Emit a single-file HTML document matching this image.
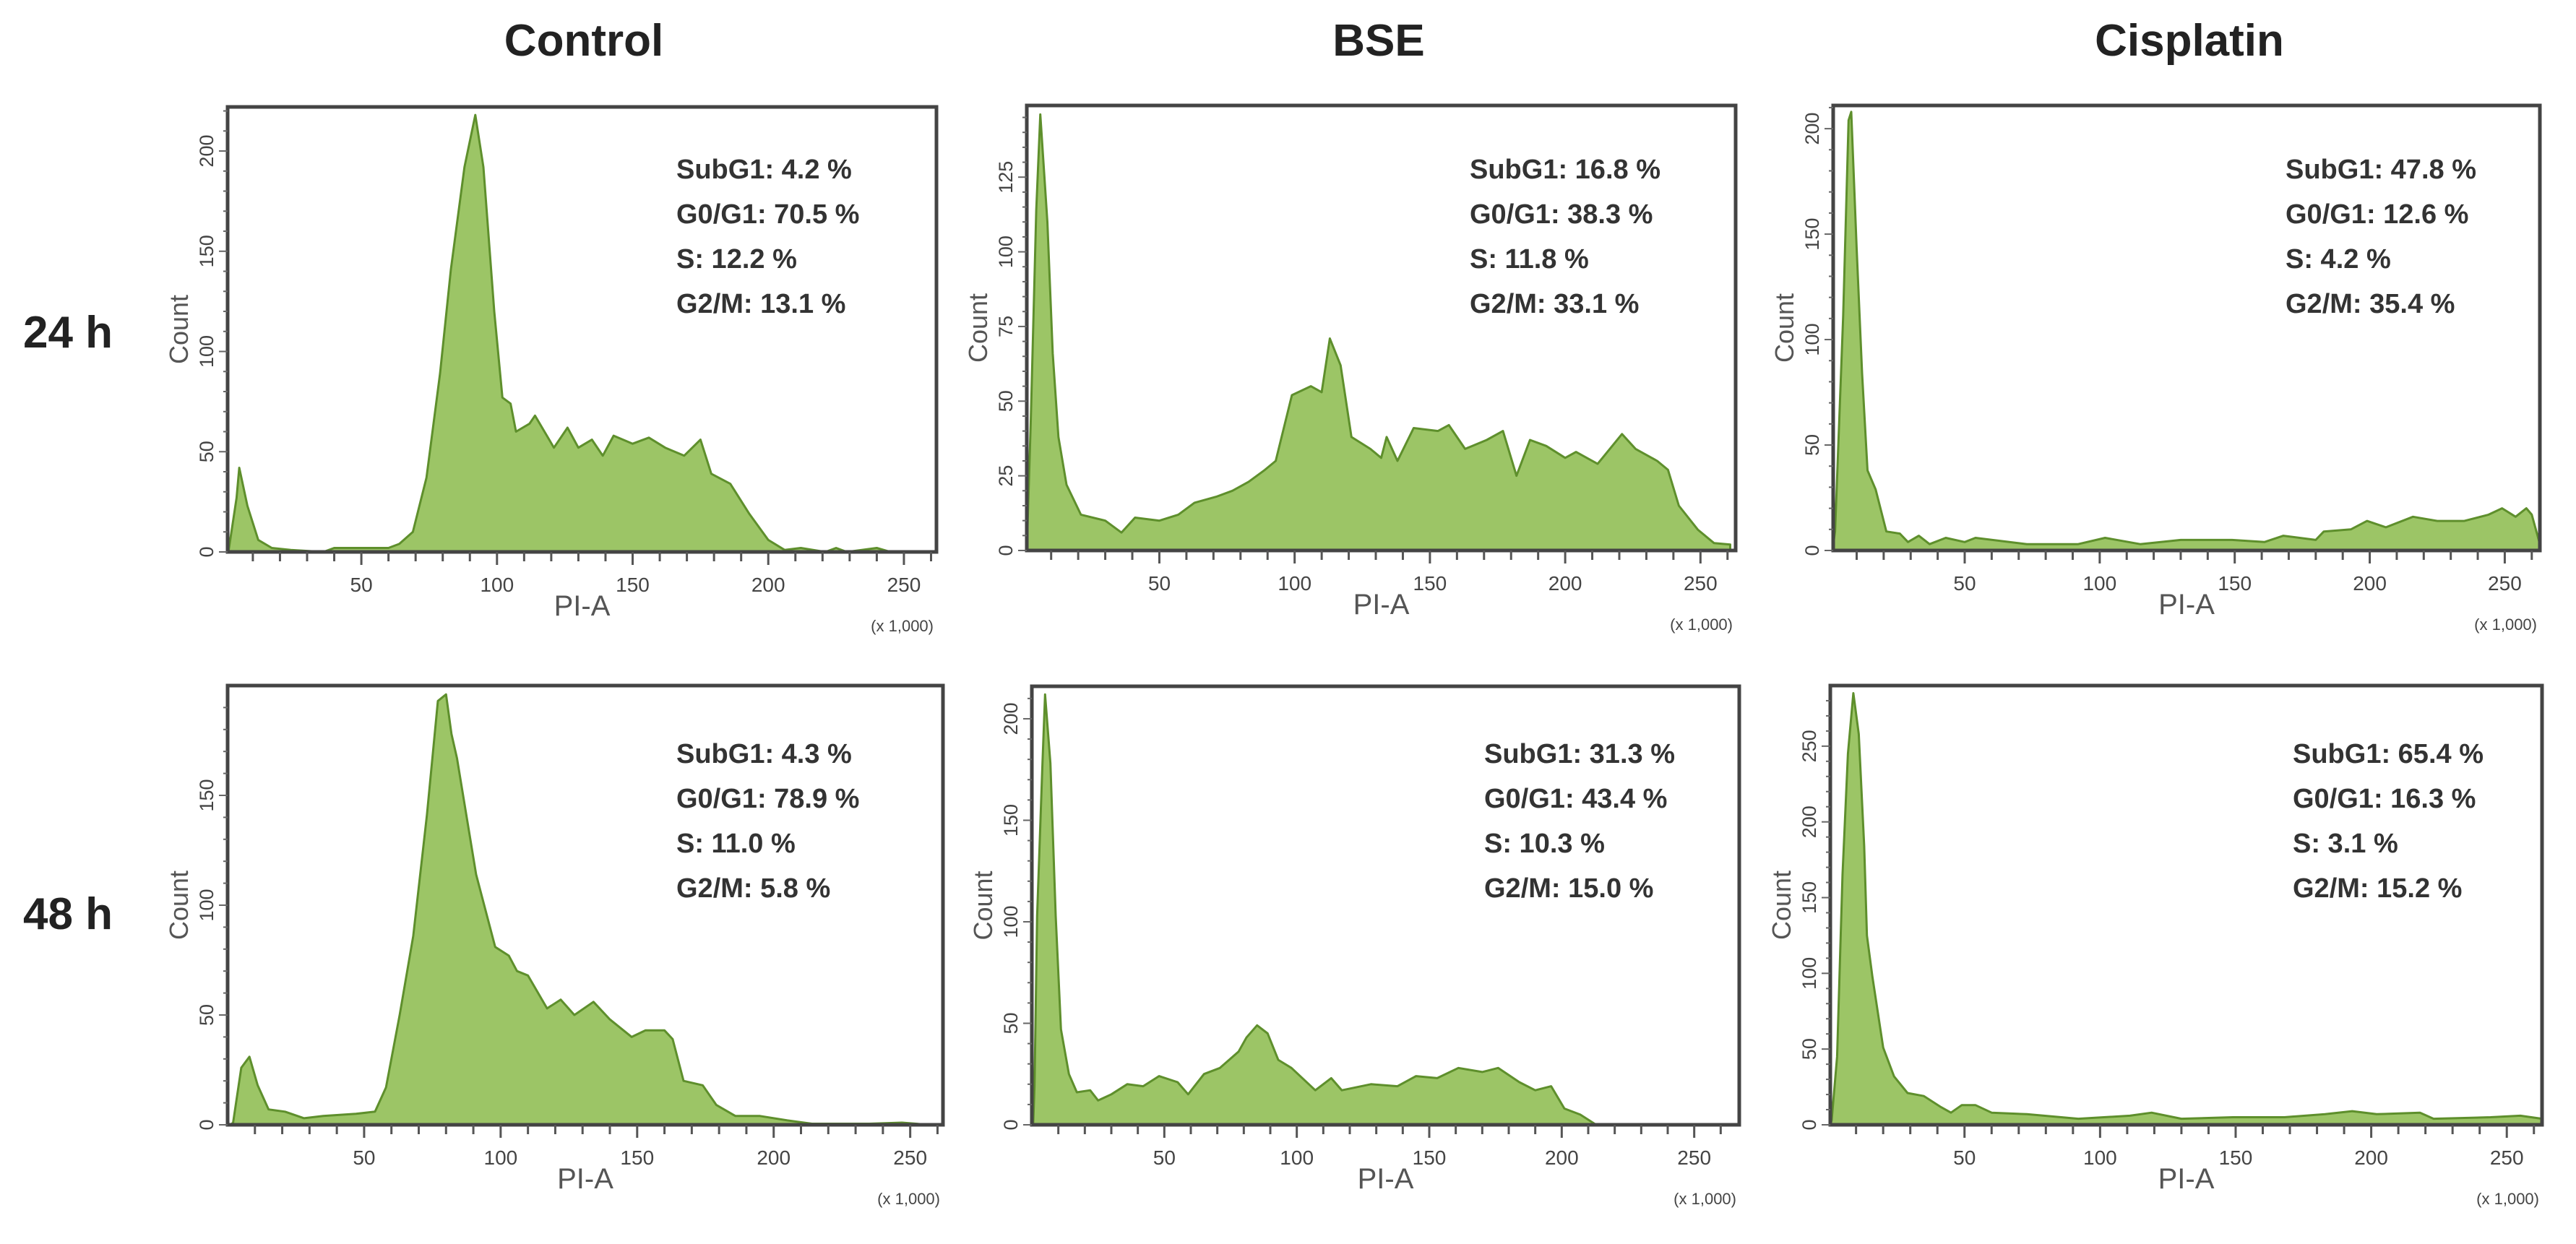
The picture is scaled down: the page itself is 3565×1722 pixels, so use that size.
<!DOCTYPE html>
<html><head><meta charset="utf-8"><style>
html,body{margin:0;padding:0;background:#fff;}
svg{display:block;font-family:"Liberation Sans",sans-serif;}
</style></head><body>
<svg id="fig" width="3565" height="1722" viewBox="0 0 3565 1722">
<g font-weight="bold" font-size="62" fill="#222" text-anchor="middle">
<text x="808" y="77">Control</text>
<text x="1908" y="77">BSE</text>
<text x="3030" y="77">Cisplatin</text>
<text x="94" y="481">24 h</text>
<text x="94" y="1286">48 h</text>
</g>
</svg>
<script>
// Panel data: PI-A (x1000) positions and counts
const ctrl24X=[1,4,5,8,12,17,24,36,40,60,64,69,74,79,83,88,92,95,99,102,105,107,112,114,121,126,130,135,139,143,150,156,162,169,175,179,186,193,200,206,212,221,225,229,240,245];
const ctrl24Y=[0,27,42,23,6,2,1,0,2,2,4,10,37,89,141,192,218,192,120,77,74,60,64,68,52,62,52,56,48,58,54,57,52,48,56,39,34,19,6,1,2,0,2,0,2,0];
const bse24X=[1,2.5,4.5,6,8.6,10.6,12.7,15.7,21,30,36,41,50,57,63,71,77,83,89,93,99,106,110,113,117,121,128,132,134,138,144,153,157,163,171,177,182,187,193,200,204,212,221,226,234,238,242,249,255,261];
const bse24Y=[0,44,114,146,110,66,38,22,12,10,6,11,10,12,16,18,20,23,27,30,52,55,53,71,62,38,34,31,38,30,41,40,42,34,37,40,25,37,35,31,33,29,39,34,30,27,15,7,2.5,2];
const cis24X=[1,2,5,7,8,10,12,14,17,21,26,29,33,37,43,50,54,73,92,102,115,130,149,161,168,180,183,193,199,206,216,225,235,244,249,254,258,260,263];
const cis24Y=[0,9,111,204,208,143,84,38,29,9,8,4,7,3,6,4,6,3,3,6,3,5,5,4,7,5,9,10,14,11,16,14,14,17,20,16,20,17,3];
const ctrl48X=[1,2,5,8,11,15,21,28,35,47,54,58,63,68,73,77,80,82,84,91,98,103,106,110,117,122,127,134,140,148,153,160,163,167,174,179,186,195,205,214,224,235,247,257];
const ctrl48Y=[0,1,26,31,18,7,6,3,4,5,6,17,50,86,141,193,196,178,167,114,81,77,70,68,53,57,50,56,48,40,43,43,39,20,18,9,4,4,2,0.5,0.5,0.5,1,0];
const bse48X=[0.5,1,2,4,5,7,9,11,14,17,22,25,30,36,42,48,55,59,65,71,78,81,85,89,93,98,107,113,117,128,138,145,153,161,170,176,184,190,196,201,207,213];
const bse48Y=[0,19,103,178,212,178,103,47,25,16,17,12,15,20,19,24,21,15,25,28,36,43,49,45,32,28,17,23,17,20,19,24,23,28,26,28,21,17,19,8,5,0];
const cis48X=[0.5,1,3,5,7,9,11,13,14,16,20,24,29,35,41,45,49,54,60,73,92,111,119,130,149,168,183,193,202,218,223,244,255,263];
const cis48Y=[0,3,45,165,245,285,258,184,125,98,51,32,21,19,12,8,13,13,8,7,4,6,8,4,5,5,7,9,7,8,4,5,6,4];
const yTicks24c=[0,50,100,150,200];
const yTicksBse24=[0,25,50,75,100,125];
const yTicks48c=[0,50,100,150];
const yTicks48cis=[0,50,100,150,200,250];
const xTickLabels=[50,100,150,200,250];
const statLabels=["SubG1","G0/G1","S","G2/M"];
const stats={c24:[4.2,70.5,12.2,13.1],b24:[16.8,38.3,11.8,33.1],p24:[47.8,12.6,4.2,35.4],c48:[4.3,78.9,11.0,5.8],b48:[31.3,43.4,10.3,15.0],p48:[65.4,16.3,3.1,15.2]};

const panels=[
 {id:'control-24h',L:315,T:148,R:1296,B:764,xmin:0.7,xmax:262,ymax:222,X:ctrl24X,Y:ctrl24Y,yt:yTicks24c,st:stats.c24,tx:936,ty:247},
 {id:'bse-24h',L:1421,T:146,R:2402,B:762,xmin:1,xmax:263,ymax:149,X:bse24X,Y:bse24Y,yt:yTicksBse24,st:stats.b24,tx:2034,ty:247,minor:5},
 {id:'cisplatin-24h',L:2537,T:146,R:3515,B:762,xmin:1.3,xmax:263,ymax:211,X:cis24X,Y:cis24Y,yt:yTicks24c,st:stats.p24,tx:3163,ty:247},
 {id:'control-48h',L:315,T:949,R:1305,B:1557,xmin:0,xmax:262,ymax:200,X:ctrl48X,Y:ctrl48Y,yt:yTicks48c,st:stats.c48,tx:936,ty:1056},
 {id:'bse-48h',L:1428,T:950,R:2407,B:1557,xmin:0,xmax:267,ymax:216,X:bse48X,Y:bse48Y,yt:yTicks24c,st:stats.b48,tx:2054,ty:1056},
 {id:'cisplatin-48h',L:2533,T:949,R:3518,B:1557,xmin:0.5,xmax:263,ymax:290,X:cis48X,Y:cis48Y,yt:yTicks48cis,st:stats.p48,tx:3173,ty:1056}
];
const NS='http://www.w3.org/2000/svg';
const svg=document.getElementById('fig');
function mk(tag,attrs,parent){const e=document.createElementNS(NS,tag);for(const k in attrs)e.setAttribute(k,attrs[k]);parent.appendChild(e);return e;}
panels.forEach(p=>{
 const g=mk('g',{},svg);
 
 
 const sx=v=>p.L+(v-p.xmin)/(p.xmax-p.xmin)*(p.R-p.L);
 const sy=v=>p.B-v/p.ymax*(p.B-p.T);
 let d='M'+sx(p.X[0])+','+p.B;
 p.X.forEach((x,i)=>{d+=' L'+sx(x).toFixed(1)+','+sy(p.Y[i]).toFixed(1);});
 d+=' L'+sx(p.X[p.X.length-1]).toFixed(1)+','+p.B+' Z';
 const area=mk('path',{d:d,fill:'#9cc566',stroke:'#5e8f2c','stroke-width':3,'stroke-linejoin':'round'},g);
 
 
 const fr=mk('rect',{x:p.L,y:p.T,width:p.R-p.L,height:p.B-p.T,fill:'none',stroke:'#444','stroke-width':5},g);
 
 
 for(let v=10;v<p.xmax;v+=10){mk('line',{x1:sx(v),x2:sx(v),y1:p.B,y2:p.B+(v%50===0?18:13),stroke:'#555','stroke-width':3},g);}
 const mn=p.minor||10;
 for(let v=0;v<p.ymax;v+=mn){mk('line',{x1:p.L,x2:p.L-(p.yt.includes(v)?12:6),y1:sy(v),y2:sy(v),stroke:'#666','stroke-width':2},g);}
 xTickLabels.forEach(v=>{const t=mk('text',{x:sx(v),y:p.B+55,'font-size':28,fill:'#444','text-anchor':'middle'},g);t.textContent=v;
  
  });
 p.yt.forEach(v=>{const t=mk('text',{x:0,y:0,'font-size':27,fill:'#444','text-anchor':'middle',transform:'translate('+(p.L-20)+','+sy(v)+') rotate(-90)'},g);t.textContent=v;
  
  });
 const yt=mk('text',{x:0,y:0,'font-size':36,fill:'#555','text-anchor':'middle',transform:'translate('+(p.L-55)+','+((p.T+p.B)/2)+') rotate(-90)'},g);yt.textContent='Count';
 
 
 const xt=mk('text',{x:p.L+(p.R-p.L)*0.5,y:p.B+88,'font-size':40,fill:'#555','text-anchor':'middle'},g);xt.textContent='PI-A';
 
 
 const xu=mk('text',{x:p.R-4,y:p.B+110,'font-size':22,fill:'#444','text-anchor':'end'},g);xu.textContent='(x 1,000)';
 
 
 p.st.forEach((v,i)=>{const t=mk('text',{x:p.tx,y:p.ty+i*62,'font-size':38,'font-weight':'bold',fill:'#333'},g);
  t.textContent=statLabels[i]+': '+v.toFixed(1)+' %';
  
  });
});
</script>
</body></html>
